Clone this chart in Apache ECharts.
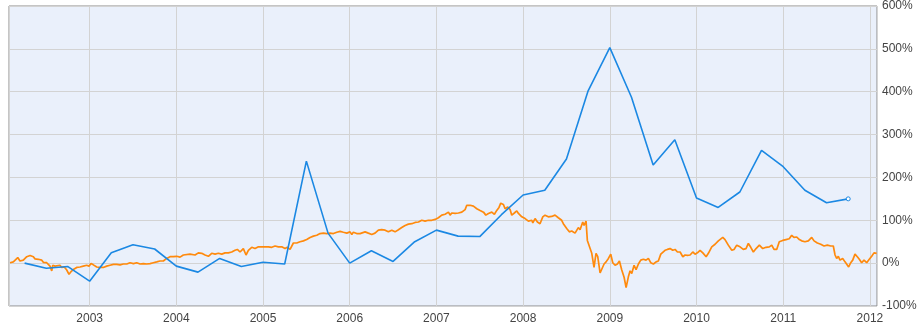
<!DOCTYPE html>
<html>
<head>
<meta charset="utf-8">
<script src="https://cdn.jsdelivr.net/npm/echarts@6/dist/echarts.min.js"></script>
<style>
html,body{margin:0;padding:0;background:#fff;}
#main{width:920px;height:328px;}
</style>
</head>
<body>
<div id="main"></div>
<script>
// quarterly series (blue), time in decimal years, value in %
var blueYears = [2002.25,2002.5,2002.75,2003.0,2003.25,2003.5,2003.75,2004.0,2004.25,2004.5,2004.75,2005.0,
	2005.25,2005.5,2005.75,2006.0,2006.25,2006.5,2006.75,2007.0,2007.25,2007.5,2007.75,2008.0,
	2008.25,2008.5,2008.75,2009.0,2009.25,2009.5,2009.75,2010.0,2010.25,2010.5,2010.75,2011.0,
	2011.25,2011.5,2011.75];
var blueValues = [0,-12,-8,-42,24,43,33,-7,-21,11,-8,2,
	-2,238,70,0,29,4,50,77,63,62,113,159,
	170,243,402,503,387,229,288,152,130,166,263,225,
	170,141,150];

// price series (orange)
var orangeYears = [
	2002.082,2002.120,2002.171,2002.197,2002.235,2002.275,2002.313,2002.351,2002.370,2002.408,2002.448,2002.466,
	2002.505,2002.524,2002.543,2002.563,2002.574,2002.601,2002.620,2002.658,2002.678,2002.708,2002.736,2002.762,
	2002.785,2002.812,2002.851,2002.889,2002.927,2002.966,2002.993,2003.016,2003.043,2003.082,2003.120,2003.158,
	2003.197,2003.235,2003.274,2003.313,2003.351,2003.389,2003.428,2003.466,2003.505,2003.543,2003.582,2003.620,
	2003.658,2003.697,2003.735,2003.774,2003.812,2003.850,2003.889,2003.927,2003.966,2004.004,2004.043,2004.081,
	2004.100,2004.158,2004.216,2004.254,2004.293,2004.331,2004.370,2004.408,2004.447,2004.485,2004.524,2004.562,
	2004.600,2004.639,2004.677,2004.704,2004.735,2004.773,2004.804,2004.831,2004.870,2004.908,2004.947,2004.985,
	2005.024,2005.062,2005.101,2005.139,2005.177,2005.216,2005.254,2005.281,2005.312,2005.350,2005.389,2005.427,
	2005.466,2005.504,2005.543,2005.581,2005.620,2005.658,2005.697,2005.735,2005.773,2005.812,2005.851,2005.889,
	2005.927,2005.966,2006.004,2006.024,2006.042,2006.081,2006.119,2006.138,2006.177,2006.215,2006.254,2006.292,
	2006.331,2006.369,2006.408,2006.446,2006.485,2006.523,2006.562,2006.600,2006.639,2006.677,2006.716,2006.754,
	2006.793,2006.831,2006.869,2006.908,2006.946,2006.985,2007.023,2007.062,2007.100,2007.139,2007.158,2007.177,
	2007.216,2007.254,2007.293,2007.331,2007.350,2007.389,2007.427,2007.466,2007.504,2007.543,2007.570,2007.600,
	2007.639,2007.669,2007.696,2007.722,2007.742,2007.772,2007.792,2007.823,2007.850,2007.869,2007.899,2007.927,
	2007.946,2007.985,2008.023,2008.061,2008.100,2008.112,2008.138,2008.165,2008.195,2008.227,2008.253,2008.291,
	2008.330,2008.368,2008.406,2008.445,2008.464,2008.503,2008.533,2008.561,2008.599,2008.637,2008.657,2008.688,
	2008.703,2008.726,2008.741,2008.764,2008.792,2008.818,2008.841,2008.861,2008.888,2008.907,2008.934,2008.957,
	2008.984,2009.011,2009.034,2009.061,2009.088,2009.111,2009.138,2009.165,2009.188,2009.214,2009.234,2009.253,
	2009.280,2009.303,2009.330,2009.357,2009.387,2009.418,2009.445,2009.472,2009.503,2009.534,2009.560,2009.588,
	2009.611,2009.637,2009.664,2009.695,2009.726,2009.753,2009.780,2009.811,2009.842,2009.868,2009.895,2009.926,
	2009.957,2009.984,2010.010,2010.041,2010.073,2010.111,2010.137,2010.176,2010.214,2010.252,2010.303,2010.329,
	2010.367,2010.407,2010.433,2010.464,2010.502,2010.540,2010.571,2010.598,2010.626,2010.656,2010.687,2010.725,
	2010.764,2010.802,2010.840,2010.868,2010.894,2010.925,2010.955,2010.994,2011.032,2011.070,2011.098,2011.124,
	2011.156,2011.186,2011.213,2011.251,2011.290,2011.329,2011.356,2011.394,2011.433,2011.471,2011.509,2011.548,
	2011.578,2011.598,2011.617,2011.636,2011.655,2011.686,2011.713,2011.732,2011.755,2011.779,2011.802,2011.828,
	2011.855,2011.878,2011.905,2011.932,2011.963,2011.993,2012.021,2012.047,2012.078
];
var orangeValues = [
	1,3,13,5,7,15,18,15,10,9,7,2,
	1,-1,-7,-18,-5,-7,-9,-5,-10,-9,-16,-26,
	-20,-15,-10,-9,-7,-5,-7,-1,-4,-9,-10,-10,
	-7,-5,-3,-3,-4,-2,-2,1,-1,1,-2,-1,
	-2,-1,1,3,5,5,11,15,15,16,14,19,
	19,21,19,24,23,19,16,23,21,23,21,24,
	24,26,30,32,26,34,19,30,37,34,38,38,
	38,38,37,40,38,38,34,37,32,47,47,50,
	52,55,60,63,65,69,70,69,70,69,72,74,
	72,70,73,67,72,69,69,70,73,70,67,70,
	77,78,77,73,77,73,78,83,88,91,92,95,
	96,100,98,100,100,102,106,112,114,119,112,117,
	116,117,119,125,135,135,133,127,123,119,112,116,
	119,114,123,130,140,137,127,131,125,112,117,122,
	116,108,104,98,100,94,104,96,92,108,112,108,
	109,112,106,100,92,81,73,75,70,83,78,96,
	88,98,53,50,23,-10,23,15,-23,-20,-2,3,
	11,21,1,-5,-2,5,-16,-33,-57,-32,-18,-24,
	-5,-15,-2,7,9,7,11,1,-2,3,5,21,
	19,30,32,34,30,32,26,26,15,19,18,19,
	26,21,24,30,24,15,23,38,44,52,60,55,
	42,30,32,42,38,32,34,46,37,26,34,42,
	34,37,38,42,32,32,50,53,55,57,65,60,
	61,55,52,50,52,60,52,47,44,40,42,40,
	40,19,11,16,7,11,3,7,-9,1,7,21,
	15,9,1,7,1,9,16,24,23
];
var yearTicks = ['2003','2004','2005','2006','2007','2008','2009','2010','2011','2012'];

var blueData = [];
for (var i = 0; i < blueYears.length; i++) {
	if (i == blueYears.length - 1) {
		blueData.push({value: [blueYears[i], blueValues[i]], symbol: 'circle', symbolSize: 4,
			itemStyle: {color: '#ffffff', borderColor: '#1b88e3', borderWidth: 1}});
	} else {
		blueData.push([blueYears[i], blueValues[i]]);
	}
}
var orangeData = [];
for (var i = 0; i < orangeYears.length; i++) {
	orangeData.push([orangeYears[i], orangeValues[i]]);
}

var myChart = echarts.init(document.getElementById('main'));
var option = {
	animation: false,
	textStyle: {fontFamily: 'Liberation Sans, Arial, sans-serif'},
	grid: {
		left: 9,
		right: 43,
		top: 5,
		bottom: 22,
		show: true,
		backgroundColor: '#eaf0fb',
		borderColor: '#8a8a8a',
		borderWidth: 1
	},
	xAxis: {
		type: 'value',
		min: 2002.07,
		max: 2012.082,
		splitNumber: 10,
		axisLine: {show: false},
		axisTick: {show: false},
		splitLine: {show: true, lineStyle: {color: '#d3d3d3', width: 1}},
		axisLabel: {
			color: '#444',
			fontSize: 12,
			margin: 7,
			showMinLabel: false,
			showMaxLabel: false,
			formatter: function (v) {
				var s = String(Math.round(v));
				return yearTicks.indexOf(s) >= 0 ? s : '';
			}
		}
	},
	yAxis: {
		type: 'value',
		position: 'right',
		min: -100,
		max: 600,
		interval: 100,
		axisLine: {show: false},
		axisTick: {show: false},
		splitLine: {show: true, lineStyle: {color: '#d3d3d3', width: 1}},
		axisLabel: {color: '#444', fontSize: 12, margin: 5, formatter: '{value}%'}
	},
	series: [
		{
			name: 'orange',
			type: 'line',
			data: orangeData,
			symbol: 'none',
			lineStyle: {color: '#ff8a0d', width: 1.7},
			z: 2
		},
		{
			name: 'blue',
			type: 'line',
			data: blueData,
			symbol: 'none',
			lineStyle: {color: '#1b88e3', width: 1.6},
			itemStyle: {color: '#1b88e3'},
			z: 3
		}
	]
};
myChart.setOption(option);
</script>
</body>
</html>
